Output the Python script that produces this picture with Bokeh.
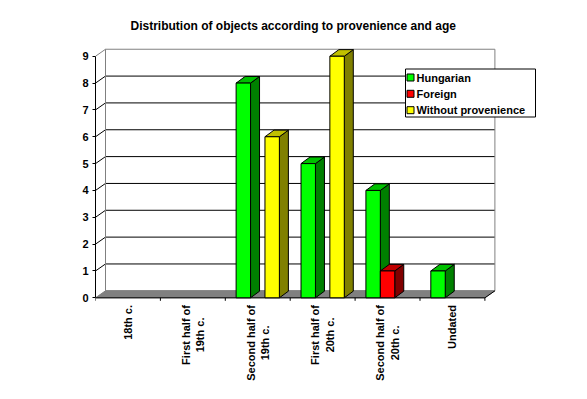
import math
from bokeh.plotting import figure
from bokeh.models import Range1d, FixedTicker
from bokeh.core.properties import value
from bokeh.embed import file_html
from bokeh.resources import INLINE

# ---------------- data ----------------
categories = ["18th c.", "First half of\n19th c.", "Second half of\n19th c.",
              "First half of\n20th c.", "Second half of\n20th c.", "Undated"]
series_names = ["Hungarian", "Foreign", "Without provenience"]
hungarian = [0, 0, 8, 5, 4, 1]
foreign = [0, 0, 0, 0, 1, 0]
without_provenience = [0, 0, 6, 9, 0, 0]
y_ticks = [0, 1, 2, 3, 4, 5, 6, 7, 8, 9]
title_text = "Distribution of objects according to provenience and age"

# ---------------- styles ----------------
front_colors = ["#00FF00", "#FF0000", "#FFFF00"]
side_colors = ["#008000", "#800000", "#808000"]
top_colors = ["#00C000", "#C00000", "#C0C000"]
FONT = "Liberation Sans"

W, H = 571, 383
PX_X = 64.9      # pixels per category
PX_Y = 26.84     # pixels per value unit
LEFT = 95        # frame left (px) == category 0
Y0 = 297.3       # px (from top) of value 0

def cx(sx):  # pixel x -> data x
    return (sx - LEFT) / PX_X

def vy(sy):  # pixel y -> data y
    return (Y0 - sy) / PX_Y

x_range = Range1d(0, (W - LEFT) / PX_X)
y_range = Range1d(-(H - Y0) / PX_Y, Y0 / PX_Y)

p = figure(width=W, height=H, x_range=x_range, y_range=y_range,
           output_backend="svg", toolbar_location=None,
           min_border_left=LEFT, min_border_right=0, min_border_top=0,
           min_border_bottom=0, x_axis_location=None, y_axis_location="left")
p.grid.visible = False
p.outline_line_color = None
p.background_fill_color = "white"
p.border_fill_color = "white"

ax = p.yaxis[0]
ax.ticker = FixedTicker(ticks=y_ticks)
ax.bounds = (min(y_ticks), max(y_ticks))
ax.major_tick_out = 3
ax.major_tick_in = 0
ax.minor_tick_line_color = None
ax.axis_line_color = "black"
ax.major_tick_line_color = "black"
ax.major_label_text_font = FONT
ax.major_label_text_font_style = "bold"
ax.major_label_text_font_size = "11px"
ax.major_label_text_color = "black"
ax.major_label_standoff = 4

n_cat = len(categories)
ymax = max(y_ticks)
wdx = 10 / PX_X
wdy = 7 / PX_Y

# floor
p.patch([0, n_cat, n_cat + wdx, wdx], [0, 0, wdy, wdy],
        fill_color="#808080", line_color="#808080", line_width=1)

# back wall gridlines
gx, gy = [], []
for t in y_ticks[1:-1]:
    gx.append([0, wdx, n_cat + wdx])
    gy.append([t, t + wdy, t + wdy])
p.multi_line(gx, gy, line_color="black", line_width=1)

# wall borders (gray)
p.multi_line([[0, wdx, wdx, n_cat + wdx, n_cat + wdx]],
             [[ymax, ymax + wdy, wdy, wdy, wdy]], line_color="#808080", line_width=1)
p.multi_line([[wdx, n_cat + wdx, n_cat + wdx]],
             [[ymax + wdy, ymax + wdy, wdy]], line_color="#808080", line_width=1)

# category axis line + right floor edge
p.multi_line([[0, n_cat, n_cat + wdx]], [[0, 0, wdy]], line_color="black", line_width=1)

# bars
series = [hungarian, foreign, without_provenience]
bw = 1 / 4.5
gap_half = 0.75 * bw
bdx = 9 / PX_X
bdy = 6.6 / PX_Y
fx, fy, fc, sx_, sy_, sc, tx, ty, tc = [], [], [], [], [], [], [], [], []
for j in range(n_cat):
    for i, s in enumerate(series):
        h = s[j]
        if h <= 0:
            continue
        x0 = j + gap_half + i * bw
        x1 = x0 + bw
        fx.append([x0, x1, x1, x0]); fy.append([0, 0, h, h]); fc.append(front_colors[i])
        sx_.append([x1, x1 + bdx, x1 + bdx, x1]); sy_.append([0, bdy, h + bdy, h]); sc.append(side_colors[i])
        tx.append([x0, x1, x1 + bdx, x0 + bdx]); ty.append([h, h, h + bdy, h + bdy]); tc.append(top_colors[i])

for k in range(len(fx)):
    p.patch(sx_[k], sy_[k], fill_color=sc[k], line_color="black", line_width=1)
    p.patch(tx[k], ty[k], fill_color=tc[k], line_color="black", line_width=1)
    p.patch(fx[k], fy[k], fill_color=fc[k], line_color="black", line_width=1)

# category ticks
tk_len = 3 / PX_Y
p.segment(x0=list(range(n_cat + 1)), y0=[0] * (n_cat + 1),
          x1=list(range(n_cat + 1)), y1=[-tk_len] * (n_cat + 1),
          line_color="black", line_width=1)

# category labels
p.text(x=[j + 0.5 for j in range(n_cat)], y=[vy(304.5)] * n_cat, text=categories,
       angle=math.pi / 2, text_align=value("center"), text_baseline=value("middle"),
       anchor=value("center_right"),
       text_font=value(FONT), text_font_style="bold", text_font_size="11px",
       text_color="black", text_line_height=1.2)

# legend (drawn)
p.quad(left=[cx(405)], right=[cx(535)], top=[vy(68.5)], bottom=[vy(116.5)],
       fill_color="white", line_color="black", line_width=1)
rows = [77, 93.3, 109.7]
p.scatter(x=[cx(410)] * 3, y=[vy(r) for r in rows], marker="square", size=7,
          fill_color=front_colors, line_color="black", line_width=1)
p.text(x=[cx(416)] * 3, y=[vy(r) for r in rows], text=series_names,
       text_align="left", text_baseline="middle", text_font=value(FONT),
       text_font_style="bold", text_font_size="11px", text_color="black")

# title
p.text(x=[cx(292.7)], y=[vy(25.5)], text=[title_text], text_align="center",
       text_baseline="middle", text_font=value(FONT), text_font_style="bold",
       text_font_size="12px", text_color="black")

open("out.html", "w").write(file_html(p, INLINE))
